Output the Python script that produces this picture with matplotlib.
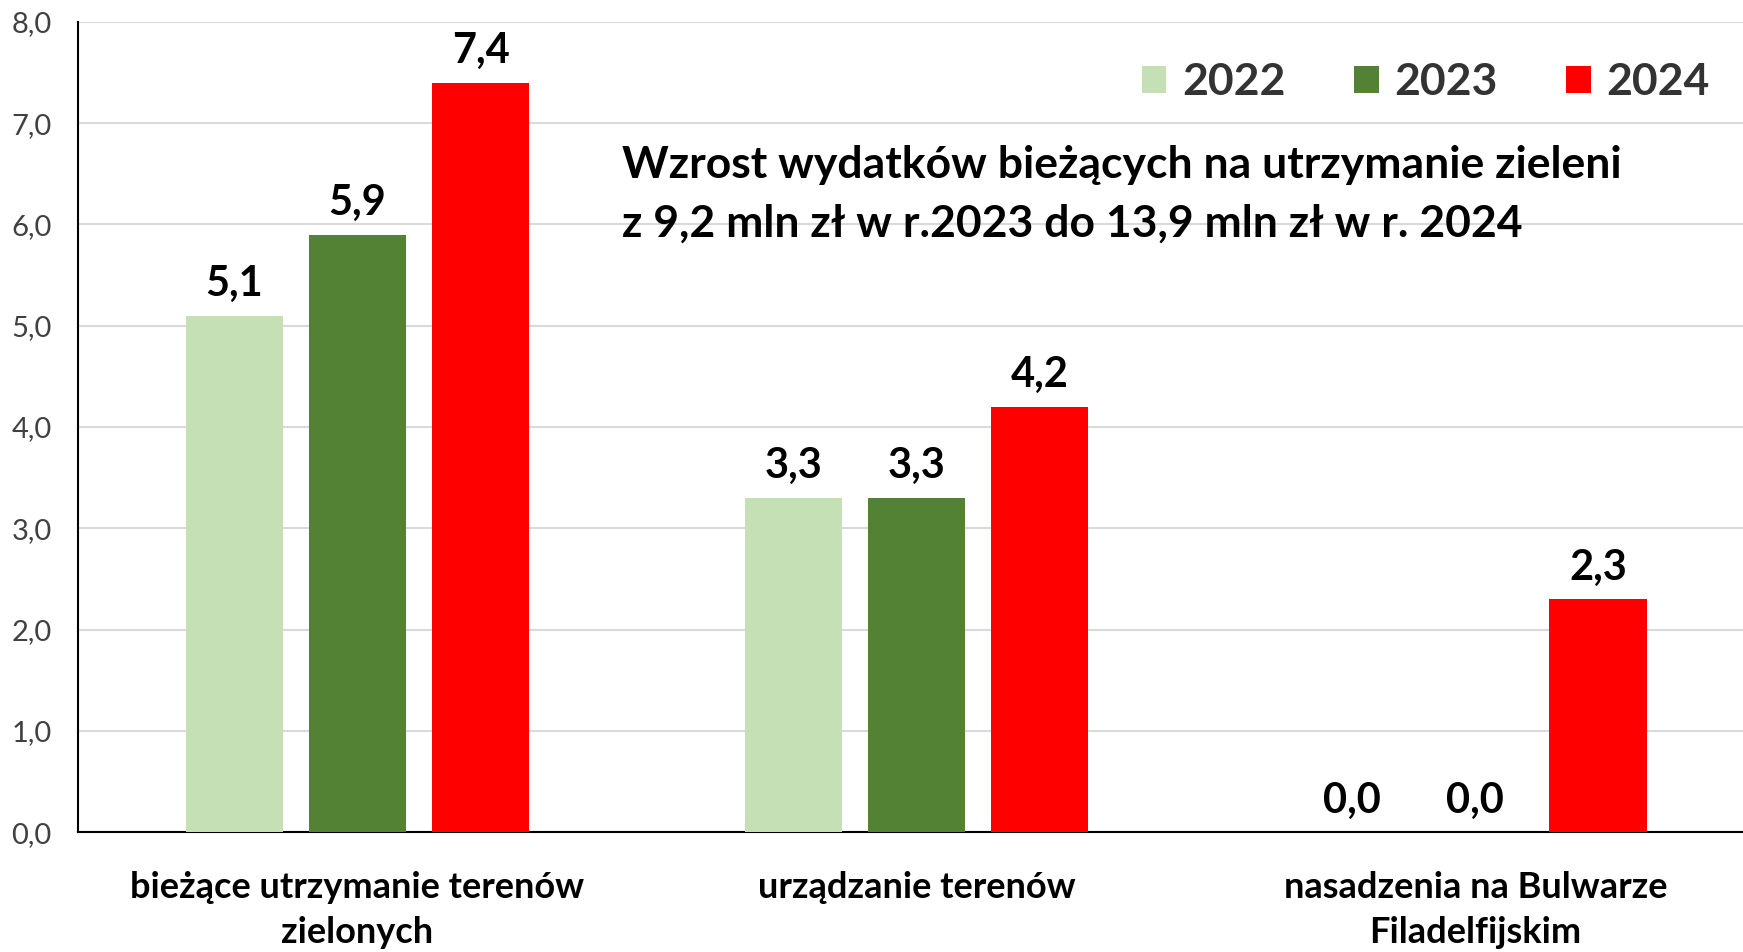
import matplotlib.pyplot as plt
import numpy as np

plt.rcParams['font.family'] = ['Lato', 'DejaVu Sans']

# dane (mln zł)
kategorie = ['bieżące utrzymanie terenów\nzielonych', 'urządzanie terenów',
             'nasadzenia na Bulwarze\nFiladelfijskim']
lata = ['2022', '2023', '2024']
w2022 = [5.1, 3.3, 0.0]
w2023 = [5.9, 3.3, 0.0]
w2024 = [7.4, 4.2, 2.3]
kolory = ['#C5E0B4', '#548235', '#FF0000']
yticks = [0, 1, 2, 3, 4, 5, 6, 7, 8]

fig = plt.figure(figsize=(17.43, 9.52), dpi=100)
# oś wychodzi lekko poza prawą krawędź, jak w oryginale
ax = fig.add_axes([0.0448, 0.126, 0.962, 0.851])

x = np.arange(len(kategorie))
szer = 0.175
krok = 0.22
for i, (rok, wart, kol) in enumerate(zip(lata, [w2022, w2023, w2024], kolory)):
    pos = x + (i - 1) * krok
    ax.bar(pos, wart, width=szer, color=kol, label=rok, zorder=3)
    for px, v in zip(pos, wart):
        ax.annotate(f'{v:.1f}'.replace('.', ','), (px, v), xytext=(0, 14),
                    textcoords='offset points', ha='center', va='baseline',
                    fontsize=30, fontweight='bold', color='black')

ax.set_xlim(-0.5, 2.5)
ax.set_ylim(0, 8)
ax.set_yticks(yticks)
ax.set_yticklabels([f'{t:.1f}'.replace('.', ',') for t in yticks],
                   fontsize=21, color='#404040')
ax.set_xticks(x)
ax.set_xticklabels(kategorie, fontsize=26, fontweight='bold', color='black',
                   linespacing=1.45)
ax.tick_params(axis='y', length=0, pad=19)
ax.tick_params(axis='x', length=0, pad=28)
ax.grid(axis='y', color='#D9D9D9', linewidth=1.5, zorder=0)
for s in ['top', 'right']:
    ax.spines[s].set_visible(False)
ax.spines['left'].set_linewidth(1.5)
ax.spines['bottom'].set_linewidth(1.5)

leg = ax.legend(loc='upper right', bbox_to_anchor=(0.997, 1.0), ncol=3,
                frameon=False, handlelength=0.55, handleheight=0.55,
                handletextpad=0.35, columnspacing=1.55,
                prop={'size': 32, 'weight': 'bold'})
for t in leg.get_texts():
    t.set_color('#333333')

ax.text(0.3245, 0.848,
        'Wzrost wydatków bieżących na utrzymanie zieleni\n'
        'z 9,2 mln zł w r.2023 do 13,9 mln zł w r. 2024',
        transform=ax.transAxes, ha='left', va='top', fontsize=32,
        fontweight='bold', color='black', linespacing=1.55)

plt.savefig('out.png', dpi=100)
